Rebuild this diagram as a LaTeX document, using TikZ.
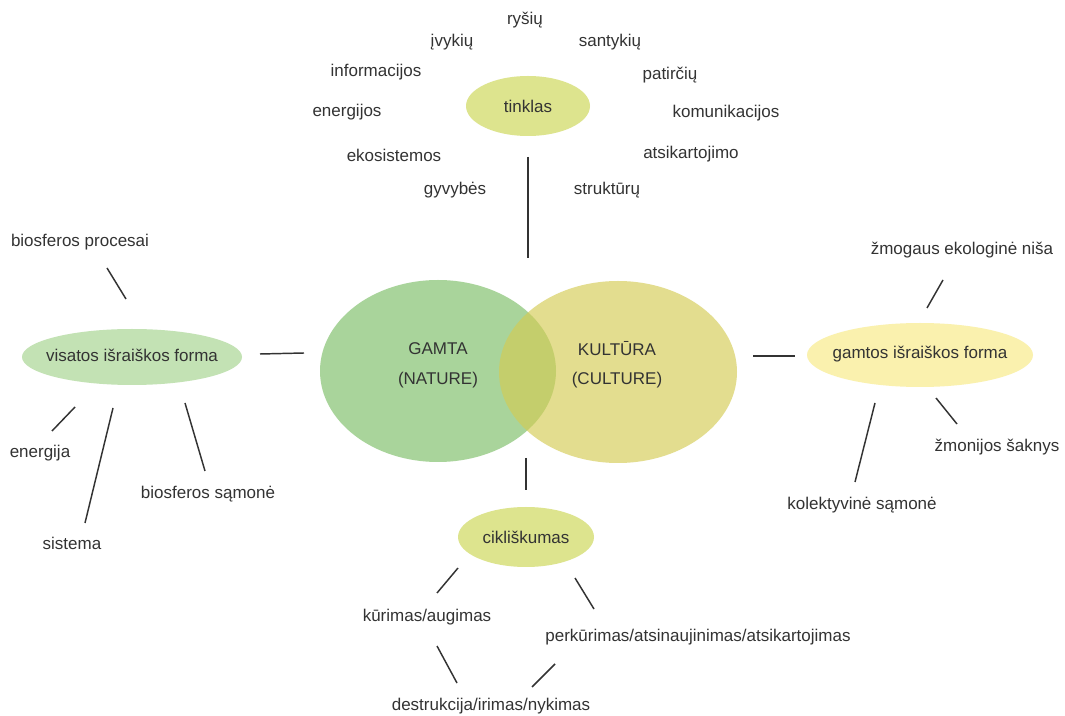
\documentclass[tikz,border=0pt]{standalone}
\usepackage{fontspec}
\setmainfont{Liberation Sans}
\definecolor{txt}{HTML}{333333}
\definecolor{natgreen}{HTML}{A9D49B}
\definecolor{culyellow}{RGB}{212,203,83}
\definecolor{leftgreen}{HTML}{C3E2B4}
\definecolor{rightyellow}{HTML}{FAF1AE}
\definecolor{hubyellow}{HTML}{DDE48E}
\begin{document}
\begin{tikzpicture}[x=0.75pt,y=-0.75pt,
  every node/.style={font=\fontsize{12.75pt}{15pt}\selectfont, text=txt, inner sep=0pt},
  word/.style={},
  blob/.style={ellipse, draw=none},
  link/.style={draw=txt, line width=1.1pt}]
\useasboundingbox (0,0) rectangle (1065,716);
\fill[white] (0,0) rectangle (1065,716);

% Venn
\fill[natgreen] (438,371) ellipse [x radius=118, y radius=91];
\fill[culyellow, fill opacity=0.65] (618,372) ellipse [x radius=119, y radius=91];
\node (gamta) at (438,349) {GAMTA};
\node (nature) at (438,380) {(NATURE)};
\node (kultura) at (617,349) {KULTŪRA};
\node (culture) at (617,380) {(CULTURE)};

% hub ellipses
\fill[hubyellow] (528,106) ellipse [x radius=62, y radius=30];
\node (tinklas) at (528,106) {tinklas};
\fill[hubyellow] (526,537) ellipse [x radius=68, y radius=30];
\node (cikl) at (526,537) {cikliškumas};
\fill[leftgreen] (132,357) ellipse [x radius=110, y radius=28];
\node (visatos) at (132,355) {visatos išraiškos forma};
\fill[rightyellow] (920,355) ellipse [x radius=113, y radius=32];
\node (gamtos) at (920,354) {gamtos išraiškos forma};

% top words
\node (rysiu) at (525,20) {ryšių};
\node (ivykiu) at (452,42) {įvykių};
\node (santykiu) at (610,42) {santykių};
\node (informacijos) at (376,72) {informacijos};
\node (patirciu) at (670,75) {patirčių};
\node (energijos) at (347,112) {energijos};
\node (komunikacijos) at (726,113) {komunikacijos};
\node (ekosistemos) at (394,155) {ekosistemos};
\node (atsikartojimo) at (691,154) {atsikartojimo};
\node (gyvybes) at (455,190) {gyvybės};
\node (strukturu) at (607,190) {struktūrų};

% left words
\node (bproc) at (80,242) {biosferos procesai};
\node (energija) at (40,453) {energija};
\node (sistema) at (72,543) {sistema};
\node (bsam) at (208,494) {biosferos sąmonė};

% right words
\node (zniša) at (962,250) {žmogaus ekologinė niša};
\node (zsaknys) at (997,447) {žmonijos šaknys};
\node (ksam) at (862,505) {kolektyvinė sąmonė};

% bottom words
\node (kurimas) at (427,617) {kūrimas/augimas};
\node (perkurimas) at (698,637) {perkūrimas/atsinaujinimas/atsikartojimas};
\node (destrukcija) at (491,706) {destrukcija/irimas/nykimas};

% connector end points
\coordinate (t1) at (528,157); \coordinate (t2) at (528,258);
\coordinate (b1) at (526,458); \coordinate (b2) at (526,490);
\coordinate (l1) at (260,354); \coordinate (l2) at (304,353);
\coordinate (r1) at (753,356); \coordinate (r2) at (795,356);
\coordinate (bp1) at (107,268); \coordinate (bp2) at (126,299);
\coordinate (en1) at (52,431); \coordinate (en2) at (75,407);
\coordinate (si1) at (85,523); \coordinate (si2) at (113,408);
\coordinate (bs1) at (185,403); \coordinate (bs2) at (205,471);
\coordinate (zn1) at (927,308); \coordinate (zn2) at (943,280);
\coordinate (zs1) at (936,398); \coordinate (zs2) at (957,424);
\coordinate (ks1) at (875,403); \coordinate (ks2) at (855,482);
\coordinate (ku1) at (437,593); \coordinate (ku2) at (458,568);
\coordinate (pe1) at (575,578); \coordinate (pe2) at (594,609);
\coordinate (de1) at (437,646); \coordinate (de2) at (457,683);
\coordinate (dp1) at (532,687); \coordinate (dp2) at (555,664);

\foreach \a/\b in {t1/t2,b1/b2,l1/l2,r1/r2,bp1/bp2,en1/en2,si1/si2,bs1/bs2,
  zn1/zn2,zs1/zs2,ks1/ks2,ku1/ku2,pe1/pe2,de1/de2,dp1/dp2}
  \draw[link] (\a) -- (\b);
\end{tikzpicture}
\end{document}
